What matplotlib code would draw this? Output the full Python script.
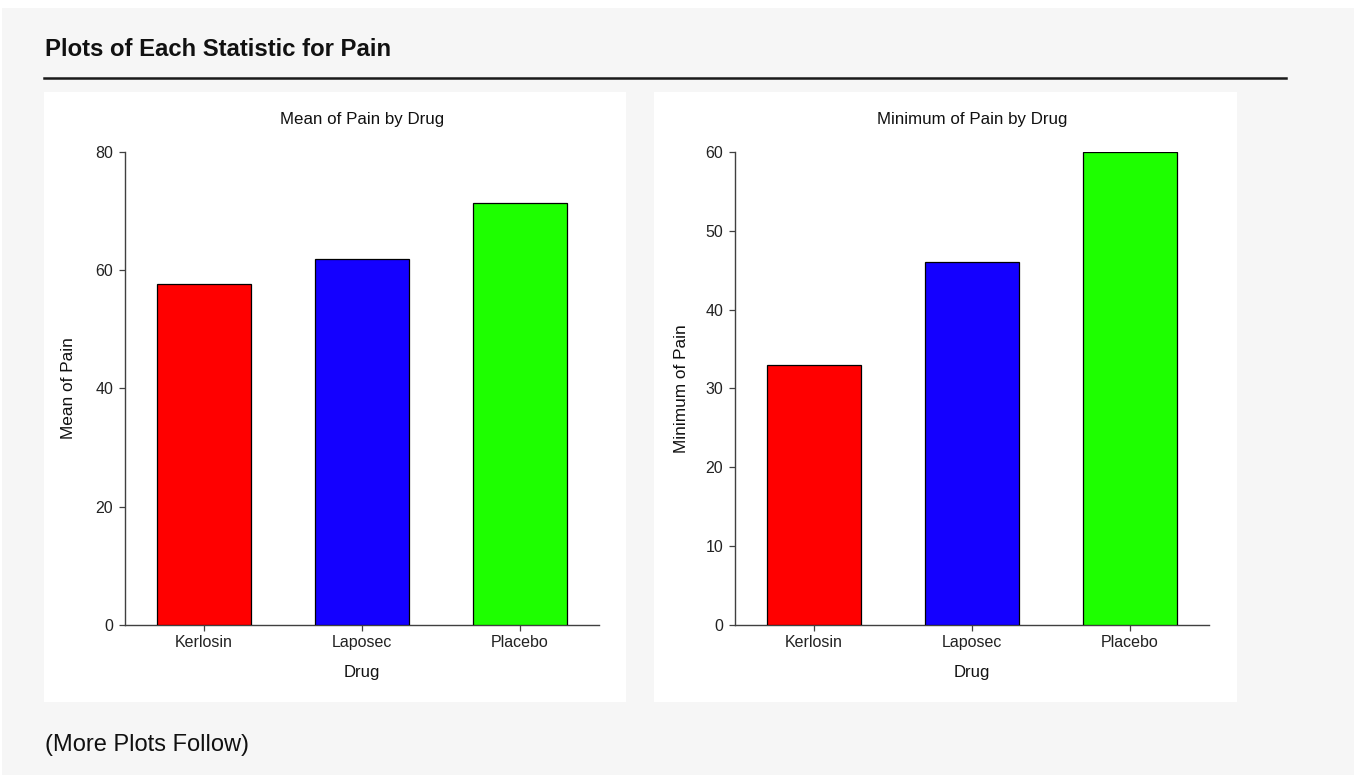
import matplotlib
matplotlib.use('Agg')
import matplotlib.pyplot as plt
from matplotlib.patches import Rectangle
from matplotlib.lines import Line2D

# Data
DRUGS = ['Kerlosin', 'Laposec', 'Placebo']
MEAN_PAIN = [57.7, 61.9, 71.3]
MIN_PAIN = [33, 46, 60]
BAR_COLORS = ['#ff0000', '#1400ff', '#1eff00']

# Layout (pixels)
W, H = 1354, 775
FONT = 'Liberation Sans'
AXIS_COLOR = '#404040'

plt.rcParams['font.family'] = [FONT, 'DejaVu Sans']


def px_rect(x0, y0, x1, y1):
    """convert pixel box (top-left origin) to figure fraction [l, b, w, h]"""
    return [x0 / W, 1 - y1 / H, (x1 - x0) / W, (y1 - y0) / H]


def draw_bar_panel(fig, box, title, ylabel, values, ymax, yticks, ylabel_pad):
    axes = fig.add_axes(px_rect(*box))
    axes.bar(range(len(DRUGS)), values, width=0.6, color=BAR_COLORS,
             edgecolor='black', linewidth=0.9, zorder=3)
    axes.set_xlim(-0.5, len(DRUGS) - 0.5)
    axes.set_ylim(0, ymax)
    axes.set_xticks(range(len(DRUGS)))
    axes.set_xticklabels(DRUGS)
    axes.set_yticks(yticks)
    axes.set_facecolor('white')
    for side in ['top', 'right']:
        axes.spines[side].set_visible(False)
    for side in ['left', 'bottom']:
        axes.spines[side].set_color(AXIS_COLOR)
        axes.spines[side].set_linewidth(1.0)
    axes.tick_params(axis='both', colors=AXIS_COLOR, labelcolor='#222222',
                     labelsize=11.5, length=4.5, width=0.9, pad=4)
    axes.tick_params(axis='x', pad=2.5)
    axes.set_title(title, fontsize=12.2, pad=20, color='#111111')
    axes.set_xlabel('Drug', fontsize=12, labelpad=11, color='#111111')
    axes.set_ylabel(ylabel, fontsize=12.4, labelpad=ylabel_pad, color='#111111')
    return axes


fig = plt.figure(figsize=(W / 100, H / 100), dpi=100, facecolor='white')

# gray page background
fig.patches.append(Rectangle((2 / W, 0), 1, 1 - 8 / H, transform=fig.transFigure,
                             facecolor='#f6f6f6', edgecolor='none', zorder=-10))
# white panels
for x0, x1 in [(44, 626), (654, 1237)]:
    l, b, w, h = px_rect(x0, 92, x1, 702)
    fig.patches.append(Rectangle((l, b), w, h, transform=fig.transFigure,
                                 facecolor='white', edgecolor='none', zorder=-5))

fig.text(45 / W, 1 - 49.5 / H, 'Plots of Each Statistic for Pain', fontsize=17.2,
         fontweight='bold', va='center', ha='left', color='#111111')
fig.lines.append(Line2D([44 / W, 1286 / W], [1 - 78 / H, 1 - 78 / H],
                        transform=fig.transFigure, color='#1a1a1a', linewidth=1.8))
fig.text(45 / W, 1 - 745 / H, '(More Plots Follow)', fontsize=17,
         va='center', ha='left', color='#111111')

draw_bar_panel(fig, (125, 152, 599, 625), 'Mean of Pain by Drug', 'Mean of Pain',
               MEAN_PAIN, 80, [0, 20, 40, 60, 80], 14)
draw_bar_panel(fig, (735, 152, 1209, 625), 'Minimum of Pain by Drug', 'Minimum of Pain',
               MIN_PAIN, 60, [0, 10, 20, 30, 40, 50, 60], 12)

fig.savefig('out.png', dpi=100, facecolor=fig.get_facecolor())
